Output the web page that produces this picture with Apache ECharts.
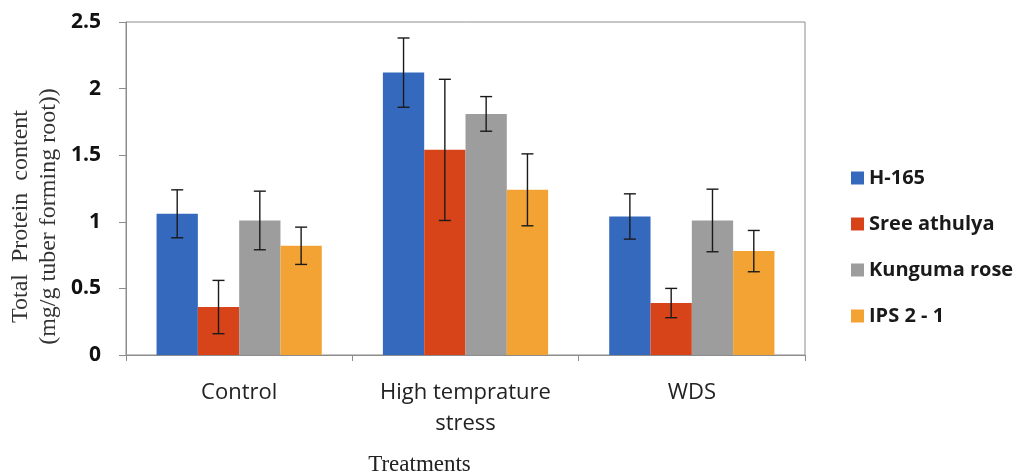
<!DOCTYPE html>
<html>
<head>
<meta charset="utf-8">
<script src="https://cdn.jsdelivr.net/npm/echarts@6/dist/echarts.min.js"></script>
<style>
  html, body { margin: 0; padding: 0; background: #fff; }
  #chart { width: 1021px; height: 476px; }
</style>
</head>
<body>
<div id="chart"></div>
<script>
// Treatments on the x axis
const categories = ['Control', 'High temprature\nstress', 'WDS'];

// Cultivars and their mean total protein (mg/g tuber forming root)
const cultivars = ['H-165', 'Sree athulya', 'Kunguma rose', 'IPS 2 - 1'];
const h165        = [1.06, 2.12, 1.04];
const sreeAthulya = [0.36, 1.54, 0.39];
const kungumaRose = [1.01, 1.81, 1.01];
const ips21       = [0.82, 1.24, 0.78];

// Standard deviations shown as error bars
const h165Err        = [0.18, 0.26, 0.17];
const sreeAthulyaErr = [0.20, 0.53, 0.11];
const kungumaRoseErr = [0.22, 0.13, 0.235];
const ips21Err       = [0.14, 0.27, 0.155];

const yTicks = [0, 0.5, 1, 1.5, 2, 2.5];

const means = [h165, sreeAthulya, kungumaRose, ips21];
const errs = [h165Err, sreeAthulyaErr, kungumaRoseErr, ips21Err];
const colors = ['#3569bd', '#d8441a', '#9d9d9d', '#f3a333'];

const CATEGORY_GAP = 0.27;

const barSeries = cultivars.map((name, i) => ({
  name: name,
  type: 'bar',
  data: means[i],
  barGap: '0%',
  barCategoryGap: (CATEGORY_GAP * 100) + '%',
  itemStyle: { color: colors[i] },
  z: 2
}));

// [categoryIndex, seriesIndex, mean, sd]
const errData = [];
means.forEach((vals, s) => vals.forEach((v, c) => errData.push([c, s, v, errs[s][c]])));

const errorSeries = {
  type: 'custom',
  name: 'error',
  silent: true,
  z: 5,
  data: errData,
  encode: { x: 0, y: 2 },
  renderItem: function (params, api) {
    const c = api.value(0), s = api.value(1), m = api.value(2), e = api.value(3);
    const band = api.size([1, 0])[0];
    const barW = band * (1 - CATEGORY_GAP) / cultivars.length;
    const center = api.coord([c, m]);
    const x = center[0] - (band * (1 - CATEGORY_GAP)) / 2 + barW * (s + 0.5);
    const top = api.coord([c, m + e])[1];
    const bot = api.coord([c, m - e])[1];
    const cap = 6;
    const style = { stroke: '#1a1a1a', lineWidth: 1.4, fill: null };
    return {
      type: 'group',
      children: [
        { type: 'line', shape: { x1: x, y1: top, x2: x, y2: bot }, style: style },
        { type: 'line', shape: { x1: x - cap, y1: top, x2: x + cap, y2: top }, style: style },
        { type: 'line', shape: { x1: x - cap, y1: bot, x2: x + cap, y2: bot }, style: style }
      ]
    };
  }
};

const chart = echarts.init(document.getElementById('chart'));
chart.setOption({
  animation: false,
  backgroundColor: '#fff',
  grid: {
    left: 126, right: 216, top: 22, bottom: 121,
    containLabel: false,
    outerBoundsMode: 'none',
    show: true, borderColor: '#8c8c8c', borderWidth: 1
  },
  legend: {
    data: cultivars,
    orient: 'vertical',
    left: 846,
    top: 163,
    icon: 'rect',
    itemWidth: 13,
    itemHeight: 13,
    itemGap: 26,
    textStyle: {
      fontFamily: 'Open Sans',
      fontWeight: 'bold',
      fontSize: 20,
      color: '#1a1a1a',
      lineHeight: 20
    }
  },
  xAxis: {
    type: 'category',
    data: categories,
    axisLine: { lineStyle: { color: '#8c8c8c', width: 1 } },
    axisTick: { show: true, length: 6, lineStyle: { color: '#8c8c8c' } },
    axisLabel: {
      margin: 22,
      fontFamily: 'Open Sans',
      fontSize: 22,
      lineHeight: 31,
      color: '#222'
    },
    name: 'Treatments',
    nameLocation: 'middle',
    nameGap: 98,
    nameMoveOverlap: false,
    nameTextStyle: {
      fontFamily: 'Liberation Serif',
      fontSize: 23,
      color: '#222',
      padding: [0, 92, 0, 0]
    }
  },
  yAxis: {
    type: 'value',
    min: yTicks[0],
    max: yTicks[yTicks.length - 1],
    interval: yTicks[1] - yTicks[0],
    axisLine: { show: true, lineStyle: { color: '#8c8c8c', width: 1 } },
    axisTick: { show: true, length: 7, lineStyle: { color: '#8c8c8c' } },
    splitLine: { show: false },
    axisLabel: {
      margin: 25,
      fontFamily: 'Open Sans',
      fontWeight: 'bold',
      fontSize: 21,
      color: '#111',
      formatter: v => String(v)
    },
    name: 'Total  Protein  content\n(mg/g tuber forming root))',
    nameLocation: 'middle',
    nameGap: 63,
    nameMoveOverlap: false,
    nameTextStyle: {
      fontFamily: 'Liberation Serif',
      fontSize: 24,
      lineHeight: 28,
      color: '#333',
      padding: [0, 56, 0, 0]
    }
  },
  series: barSeries.concat([errorSeries])
});
</script>
</body>
</html>
